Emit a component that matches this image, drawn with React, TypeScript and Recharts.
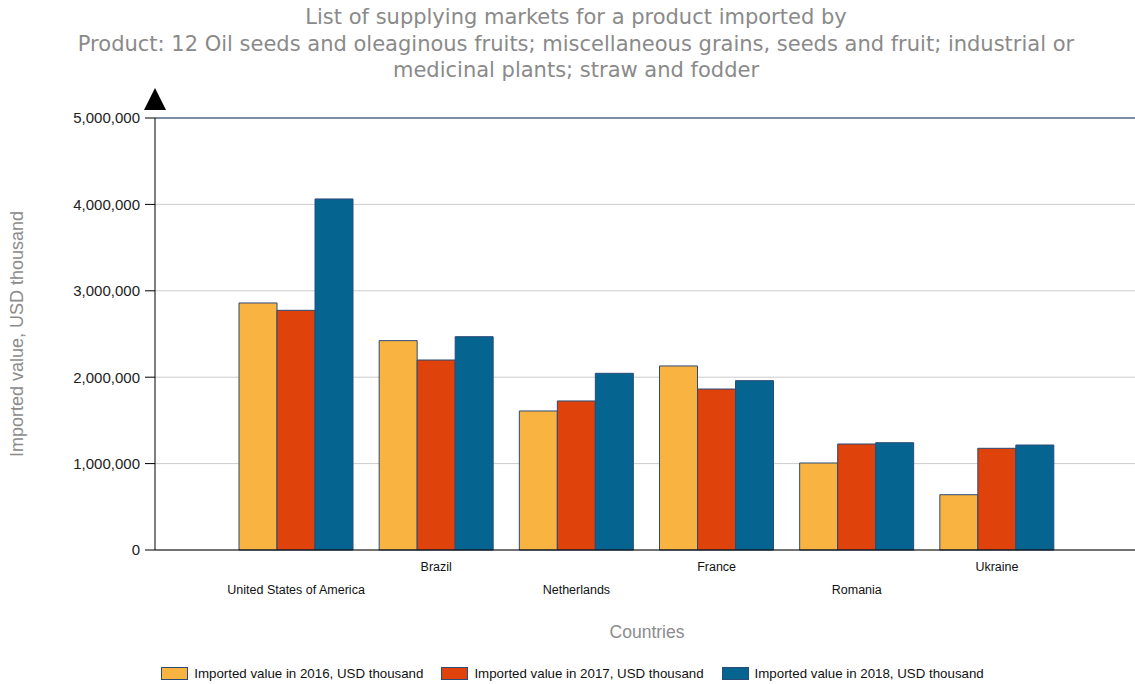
import { BarChart, Bar, XAxis, YAxis, CartesianGrid, Legend, ReferenceLine, Label } from "recharts";

const countries = ["United States of America", "Brazil", "Netherlands", "France", "Romania", "Ukraine"];
const value2016 = [2859000, 2423000, 1609000, 2130000, 1007000, 640000];
const value2017 = [2774000, 2199000, 1725000, 1863000, 1227000, 1177000];
const value2018 = [4063000, 2469000, 2045000, 1960000, 1242000, 1215000];
const yTicks = [0, 1000000, 2000000, 3000000, 4000000, 5000000];

const titleLines = [
  "List of supplying markets for a product imported by",
  "Product: 12 Oil seeds and oleaginous fruits; miscellaneous grains, seeds and fruit; industrial or",
  "medicinal plants; straw and fodder",
];
const series = [
  { key: "v2016", name: "Imported value in 2016, USD thousand", color: "#f9b340" },
  { key: "v2017", name: "Imported value in 2017, USD thousand", color: "#df420b" },
  { key: "v2018", name: "Imported value in 2018, USD thousand", color: "#066491" },
];

const data = countries.map((c, i) => ({
  country: c,
  v2016: value2016[i],
  v2017: value2017[i],
  v2018: value2018[i],
}));

const axisFont = "'Liberation Sans', Arial, sans-serif";
const barStroke = "#2b4a78";

function CountryTick(props: any) {
  const { x, y, payload, index } = props;
  return (
    <text
      x={x}
      y={y + (index % 2 === 0 ? 33 : 10)}
      textAnchor="middle"
      dominantBaseline="middle"
      fontSize={12.5}
      fontFamily={axisFont}
      fill="#111"
    >
      {payload.value}
    </text>
  );
}

function YTitle(props: any) {
  const { x, y, width, height } = props.viewBox;
  const ax = x + width;
  return (
    <g>
      <polygon points={`${ax},${y - 30} ${ax - 11},${y - 8} ${ax + 11},${y - 8}`} fill="#000" />
      <text
        x={x + 18}
        y={y + height / 2}
        transform={`rotate(-90, ${x + 18}, ${y + height / 2})`}
        textAnchor="middle"
        dominantBaseline="middle"
        fontSize={18}
        fontFamily={axisFont}
        fill="#8c8c8c"
      >
        Imported value, USD thousand
      </text>
    </g>
  );
}

function XTitle(props: any) {
  const { x, y, width } = props.viewBox;
  return (
    <text
      x={x + width / 2 + 2}
      y={y + 83}
      textAnchor="middle"
      dominantBaseline="middle"
      fontSize={17.5}
      fontFamily={axisFont}
      fill="#8c8c8c"
    >
      Countries
    </text>
  );
}

function LegendBox() {
  return (
    <div style={{ display: "flex", justifyContent: "center", height: 22, alignItems: "center", paddingLeft: 10, gap: 18 }}>
      {series.map((s) => (
        <div key={s.key} style={{ display: "flex", alignItems: "center" }}>
          <span style={{ width: 25, height: 11, background: s.color, border: `1px solid ${barStroke}`, display: "inline-block" }} />
          <span style={{ marginLeft: 6, fontSize: 13.3, fontFamily: axisFont, color: "#111" }}>{s.name}</span>
        </div>
      ))}
    </div>
  );
}

export default function App() {
  return (
    <div style={{ position: "fixed", left: 0, top: 0, width: 1135, height: 684, background: "#fff" }}>
      <div
        style={{
          position: "absolute",
          left: 26,
          top: 4,
          width: 1100,
          textAlign: "center",
          fontFamily: "'DejaVu Sans', Verdana, sans-serif",
          fontSize: 21,
          lineHeight: "26.5px",
          color: "#8a8a8a",
          whiteSpace: "nowrap",
        }}
      >
        {titleLines.map((l) => (
          <div key={l}>{l}</div>
        ))}
      </div>
      <BarChart
        width={1135}
        height={684}
        data={data}
        margin={{ top: 118, right: 0, bottom: 0, left: 0 }}
        barCategoryGap={13}
        barGap={0}
      >
        <CartesianGrid vertical={false} stroke="#cccccc" />
        <ReferenceLine y={5000000} stroke="#5b6f8f" strokeWidth={1.5} />
        <XAxis
          dataKey="country"
          interval={0}
          tickLine={false}
          axisLine={{ stroke: "#000" }}
          padding={{ left: 71, right: 68 }}
          height={112}
          tick={<CountryTick />}
        >
          <Label content={<XTitle />} />
        </XAxis>
        <YAxis
          width={155}
          domain={[0, 5000000]}
          ticks={yTicks}
          interval={0}
          tickSize={10}
          tickMargin={5}
          axisLine={{ stroke: "#000" }}
          tickLine={{ stroke: "#000" }}
          tick={{ fontSize: 15, fontFamily: axisFont, fill: "#222" }}
          tickFormatter={(v: number) => v.toLocaleString("en-US")}
        >
          <Label content={<YTitle />} />
        </YAxis>
        <Legend verticalAlign="bottom" content={<LegendBox />} />
        {series.map((s) => (
          <Bar
            key={s.key}
            dataKey={s.key}
            name={s.name}
            fill={s.color}
            stroke={barStroke}
            strokeWidth={1}
            isAnimationActive={false}
          />
        ))}
      </BarChart>
    </div>
  );
}
